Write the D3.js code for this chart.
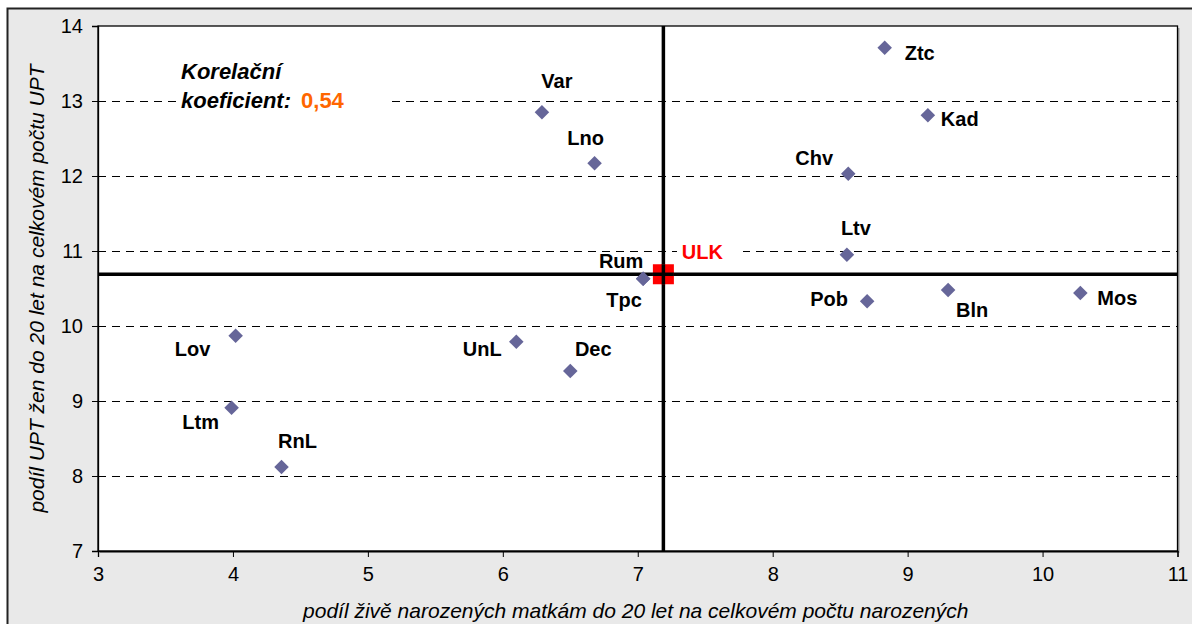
<!DOCTYPE html>
<html>
<head>
<meta charset="utf-8">
<script src="https://cdn.jsdelivr.net/npm/d3@7"></script>
<style>
  body { margin: 0; background: #fff; }
  svg { display: block; font-family: Arial, "Liberation Sans", sans-serif; }
</style>
</head>
<body>
<svg width="1192" height="624"></svg>
<script>
// districts and their values
var names = ["Ztc", "Kad", "Chv", "Ltv", "Pob", "Bln", "Mos", "Var", "Lno", "Rum", "Tpc", "Lov", "Ltm", "RnL", "UnL", "Dec"];
var xVals = [8.83, 9.15, 8.56, 8.55, 8.70, 9.30, 10.28, 6.29, 6.68, 7.04, 7.04, 4.02, 3.99, 4.36, 6.10, 6.50];
var yVals = [13.71, 12.81, 12.03, 10.95, 10.33, 10.48, 10.44, 12.85, 12.17, 10.63, 10.63, 9.87, 8.91, 8.12, 9.79, 9.40];
var region = {name: "ULK", x: 7.19, y: 10.69};
var xTicks = [3, 4, 5, 6, 7, 8, 9, 10, 11];
var yTicks = [7, 8, 9, 10, 11, 12, 13, 14];
var corr = "0,54";

// label placement relative to the marker (dx, dy, anchor)
var labelPos = {
  Ztc: [20, 12, "start"], Kad: [13, 11, "start"], Chv: [-34, -9, "middle"],
  Ltv: [9, -20, "middle"], Pob: [-38, 5, "middle"], Bln: [24, 27, "middle"],
  Mos: [17, 12, "start"], Var: [15, -24, "middle"], Lno: [-9, -18, "middle"],
  Rum: [-22, -11, "middle"], Tpc: [-19, 28, "middle"], Lov: [-43, 20, "middle"],
  Ltm: [-31, 21, "middle"], RnL: [16, -19, "middle"], UnL: [-34, 14, "middle"],
  Dec: [23, -15, "middle"]
};

var svg = d3.select("svg");
var pLeft = 98, pTop = 26, pRight = 1177.5, pBottom = 551;

var x = d3.scaleLinear().domain([3, 11]).range([pLeft, pRight]);
var y = d3.scaleLinear().domain([7, 14]).range([pBottom, pTop]);

// outer grey panel
svg.append("rect")
  .attr("x", 7.5).attr("y", 8.5).attr("width", 1200).attr("height", 630)
  .attr("fill", "#e9e9e9").attr("stroke", "#222").attr("stroke-width", 2);

// plot area shadow + white field
svg.append("rect")
  .attr("x", pLeft + 2).attr("y", pTop + 2).attr("width", pRight - pLeft).attr("height", pBottom - pTop)
  .attr("fill", "#9a9a9a");
svg.append("rect")
  .attr("x", pLeft).attr("y", pTop).attr("width", pRight - pLeft).attr("height", pBottom - pTop)
  .attr("fill", "#fff").attr("stroke", "#000").attr("stroke-width", 1.3);

// dashed gridlines
svg.append("g").selectAll("line")
  .data(yTicks.filter(function(d) { return d > 7 && d < 14; }))
  .join("line")
  .attr("x1", pLeft).attr("x2", pRight)
  .attr("y1", function(d) { return y(d) + 0.5; }).attr("y2", function(d) { return y(d) + 0.5; })
  .attr("stroke", "#000").attr("stroke-width", 1).attr("stroke-dasharray", "8,6")
  .attr("shape-rendering", "crispEdges");

// axes
var xAxis = svg.append("g").attr("transform", "translate(0," + pBottom + ")")
  .call(d3.axisBottom(x).tickValues(xTicks).tickSize(6).tickPadding(10).tickFormat(d3.format("d")));
var yAxis = svg.append("g").attr("transform", "translate(" + pLeft + ",0)")
  .call(d3.axisLeft(y).tickValues(yTicks).tickSize(6).tickPadding(9).tickFormat(d3.format("d")));
[xAxis, yAxis].forEach(function(a) {
  a.attr("font-size", 20).attr("font-family", "Arial, 'Liberation Sans', sans-serif");
  a.select(".domain").attr("stroke", "#000").attr("stroke-width", 1.3);
  a.selectAll(".tick line").attr("stroke", "#000");
  a.selectAll(".tick text").attr("fill", "#000");
});

// axis titles
svg.append("text")
  .attr("x", (pLeft + pRight) / 2 - 2).attr("y", 618)
  .attr("text-anchor", "middle").attr("font-size", 21).attr("font-style", "italic")
  .text("podíl živě narozených matkám do 20 let na celkovém počtu narozených");
svg.append("text")
  .attr("transform", "translate(44," + ((pTop + pBottom) / 2) + ") rotate(-90)")
  .attr("text-anchor", "middle").attr("font-size", 21).attr("font-style", "italic")
  .text("podíl UPT žen do 20 let na celkovém počtu UPT");

// white boxes behind the floating texts (they hide the gridlines there)
svg.append("rect").attr("x", 176).attr("y", 56).attr("width", 214).attr("height", 60).attr("fill", "#fff");
svg.append("rect").attr("x", 677).attr("y", 240).attr("width", 66).attr("height", 22).attr("fill", "#fff");

// reference cross lines for the region
svg.append("line")
  .attr("x1", x(region.x)).attr("x2", x(region.x)).attr("y1", pTop).attr("y2", pBottom)
  .attr("stroke", "#000").attr("stroke-width", 3.5);
svg.append("line")
  .attr("x1", pLeft).attr("x2", pRight).attr("y1", y(region.y)).attr("y2", y(region.y))
  .attr("stroke", "#000").attr("stroke-width", 3.5);

// data points
var pts = names.map(function(n, i) { return {name: n, x: xVals[i], y: yVals[i]}; });
svg.append("g").selectAll("path")
  .data(pts)
  .join("path")
  .attr("d", d3.symbol(d3.symbolDiamond2, 135))
  .attr("transform", function(d) { return "translate(" + x(d.x) + "," + y(d.y) + ")"; })
  .attr("fill", "#666699");

svg.append("g").selectAll("text")
  .data(pts)
  .join("text")
  .attr("x", function(d) { return x(d.x) + labelPos[d.name][0]; })
  .attr("y", function(d) { return y(d.y) + labelPos[d.name][1]; })
  .attr("text-anchor", function(d) { return labelPos[d.name][2]; })
  .attr("font-size", 20).attr("font-weight", "bold")
  .text(function(d) { return d.name; });

// region marker
svg.append("rect")
  .attr("x", x(region.x) - 10.5).attr("y", y(region.y) - 10).attr("width", 21).attr("height", 20)
  .attr("fill", "#ff0000");
svg.append("line")
  .attr("x1", x(region.x)).attr("x2", x(region.x)).attr("y1", y(region.y) - 10).attr("y2", y(region.y) + 10)
  .attr("stroke", "#000").attr("stroke-width", 3.5);
svg.append("line")
  .attr("x1", x(region.x) - 10.5).attr("x2", x(region.x) + 10.5).attr("y1", y(region.y)).attr("y2", y(region.y))
  .attr("stroke", "#000").attr("stroke-width", 3.5);
svg.append("text")
  .attr("x", x(region.x) + 39).attr("y", y(region.y) - 15)
  .attr("text-anchor", "middle").attr("font-size", 20).attr("font-weight", "bold")
  .attr("fill", "#ff0000").text(region.name);

// correlation note
svg.append("text")
  .attr("x", 181).attr("y", 79)
  .attr("font-size", 22).attr("font-weight", "bold").attr("font-style", "italic")
  .text("Korelační");
var k = svg.append("text").attr("x", 181).attr("y", 108).attr("font-size", 22).attr("font-weight", "bold");
k.append("tspan").attr("font-style", "italic").text("koeficient:");
k.append("tspan").attr("dx", 10).attr("fill", "#ff6600").text(corr);
</script>
</body>
</html>
